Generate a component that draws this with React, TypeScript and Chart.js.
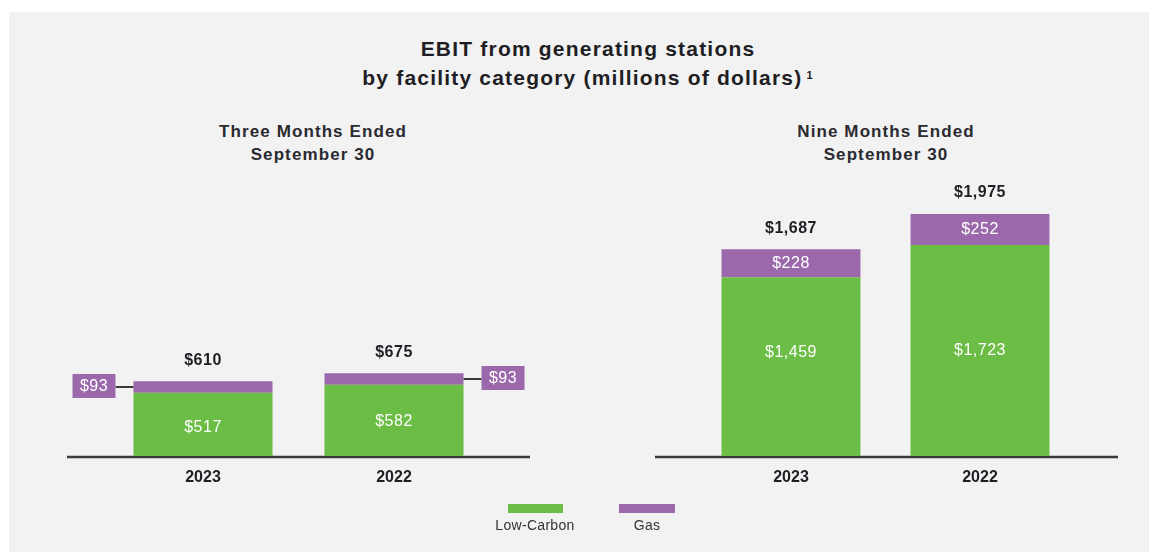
import React, { useEffect, useRef } from 'react';
import { Chart, registerables } from 'chart.js';

Chart.register(...registerables);

// ---- data ----
const threeMonthCategories = ['2023', '2022'];
const threeMonthLowCarbon = [517, 582];
const threeMonthGas = [93, 93];
const threeMonthTotals = [610, 675];

const nineMonthCategories = ['2023', '2022'];
const nineMonthLowCarbon = [1459, 1723];
const nineMonthGas = [228, 252];
const nineMonthTotals = [1687, 1975];

const seriesNames = ['Low-Carbon', 'Gas'];
const yMax = 2090;

const titleLines = ['EBIT from generating stations', 'by facility category (millions of dollars)'];
const panelTitles = [
  ['Three Months Ended', 'September 30'],
  ['Nine Months Ended', 'September 30'],
];

// ---- style ----
const GREEN = '#6cbd45';
const PURPLE = '#9b69ab';
const BG = '#f2f2f2';
const TEXT = '#1e1e24';
const FONT = '"Liberation Sans", Arial, Helvetica, sans-serif';
// vertical placement of the in-bar Low-Carbon label (fraction of segment from its top)
const threeMonthLabelFrac = [0.55, 0.52];
const nineMonthLabelFrac = [0.42, 0.5];

const fmt = (v: number) => '$' + v.toLocaleString('en-US');

type PanelProps = {
  categories: string[];
  low: number[];
  gas: number[];
  totals: number[];
  labelFrac: number[];
  callouts: boolean;
  left: number;
  width: number;
  padLeft: number;
  padRight: number;
  barPct: number;
  axisExtLeft: number;
  axisExtRight: number;
};

function Panel(p: PanelProps) {
  const ref = useRef<HTMLCanvasElement | null>(null);
  useEffect(() => {
    if (!ref.current) return;
    const labelPlugin = {
      id: 'labels',
      beforeDatasetsDraw(chart: any) {
        const { ctx, chartArea } = chart;
        const yb = chart.scales.y.getPixelForValue(0);
        ctx.save();
        ctx.strokeStyle = '#3a3a3a';
        ctx.lineWidth = 2.5;
        ctx.beginPath();
        ctx.moveTo(chartArea.left - p.axisExtLeft, yb + 1);
        ctx.lineTo(chartArea.right + p.axisExtRight, yb + 1);
        ctx.stroke();
        ctx.restore();
      },
      afterDatasetsDraw(chart: any) {
        const { ctx } = chart;
        const m0 = chart.getDatasetMeta(0).data;
        const m1 = chart.getDatasetMeta(1).data;
        ctx.save();
        ctx.textAlign = 'center';
        ctx.textBaseline = 'middle';
        (ctx as any).letterSpacing = '0.5px';
        for (let i = 0; i < m0.length; i++) {
          const g = m0[i];
          const pu = m1[i];
          // green label
          ctx.fillStyle = '#ffffff';
          ctx.font = `16px ${FONT}`;
          ctx.fillText(fmt(p.low[i]), g.x, g.y + (g.base - g.y) * p.labelFrac[i]);
          // gas label
          const midP = (pu.y + pu.base) / 2;
          if (p.callouts) {
            const bw = 43;
            const bh = 24;
            const gap = 18;
            const half = pu.width / 2;
            const onLeft = i === 0;
            const bx = onLeft ? pu.x - half - gap - bw : pu.x + half + gap;
            ctx.strokeStyle = '#3a3a3a';
            ctx.lineWidth = 2;
            ctx.beginPath();
            if (onLeft) {
              ctx.moveTo(bx + bw, midP);
              ctx.lineTo(pu.x - half, midP);
            } else {
              ctx.moveTo(pu.x + half, midP);
              ctx.lineTo(bx, midP);
            }
            ctx.stroke();
            ctx.fillStyle = PURPLE;
            ctx.fillRect(bx, midP - bh / 2 - 1, bw, bh);
            ctx.fillStyle = '#ffffff';
            ctx.font = `16px ${FONT}`;
            ctx.fillText(fmt(p.gas[i]), bx + bw / 2, midP);
          } else {
            ctx.fillStyle = '#ffffff';
            ctx.font = `16px ${FONT}`;
            ctx.fillText(fmt(p.gas[i]), pu.x, midP);
          }
          // total
          ctx.fillStyle = TEXT;
          ctx.font = `bold 16px ${FONT}`;
          ctx.fillText(fmt(p.totals[i]), pu.x, pu.y - 21);
        }
        ctx.restore();
      },
    };

    const chart = new Chart(ref.current, {
      type: 'bar',
      data: {
        labels: p.categories,
        datasets: [
          {
            label: seriesNames[0],
            data: p.low,
            backgroundColor: GREEN,
            borderWidth: 0,
            categoryPercentage: 1,
            barPercentage: p.barPct,
          },
          {
            label: seriesNames[1],
            data: p.gas,
            backgroundColor: PURPLE,
            borderWidth: 0,
            categoryPercentage: 1,
            barPercentage: p.barPct,
          },
        ],
      },
      options: {
        animation: false,
        responsive: false,
        maintainAspectRatio: false,
        layout: {
          padding: { left: p.padLeft, right: p.padRight, top: 200, bottom: 56 },
        },
        plugins: {
          legend: { display: false },
          tooltip: { enabled: false },
          title: { display: false },
        },
        scales: {
          x: {
            stacked: true,
            grid: { display: false, drawTicks: false },
            border: { display: false },
            ticks: {
              padding: 12,
              color: TEXT,
              font: { family: FONT, size: 16, weight: 'bold' },
            },
            afterFit: (s: any) => {
              s.height = 40;
            },
          },
          y: {
            stacked: true,
            display: false,
            min: 0,
            max: yMax,
          },
        },
      },
      plugins: [labelPlugin],
    } as any);
    return () => chart.destroy();
  }, []);
  return (
    <canvas
      ref={ref}
      width={p.width}
      height={552}
      style={{ position: 'absolute', left: p.left, top: 0, width: p.width, height: 552 }}
    />
  );
}

export default function App() {
  useEffect(() => {
    document.body.style.margin = '0';
  }, []);
  const txt: React.CSSProperties = {
    position: 'absolute',
    fontFamily: FONT,
    color: TEXT,
    textAlign: 'center',
    whiteSpace: 'nowrap',
  };
  return (
    <div
      style={{
        position: 'fixed',
        left: 0,
        top: 0,
        width: 1151,
        height: 552,
        background: '#ffffff',
        overflow: 'hidden',
      }}
    >
      <div style={{ position: 'absolute', left: 9, top: 12, width: 1140, height: 540, background: BG }} />
      <div
        style={{
          ...txt,
          left: 238,
          width: 700,
          top: 34,
          fontSize: 21,
          fontWeight: 'bold',
          lineHeight: '29px',
          letterSpacing: '1.2px',
        }}
      >
        {titleLines[0]}
        <br />
        {titleLines[1]}
        <sup style={{ fontSize: 11, marginLeft: 4, verticalAlign: 'top', position: 'relative', top: -2 }}>1</sup>
      </div>
      <div
        style={{
          ...txt,
          left: 163,
          width: 300,
          top: 120,
          fontSize: 17,
          fontWeight: 'bold',
          lineHeight: '23px',
          color: '#2a2a30',
          letterSpacing: '1.1px',
        }}
      >
        {panelTitles[0][0]}
        <br />
        {panelTitles[0][1]}
      </div>
      <div
        style={{
          ...txt,
          left: 736,
          width: 300,
          top: 120,
          fontSize: 17,
          fontWeight: 'bold',
          lineHeight: '23px',
          color: '#2a2a30',
          letterSpacing: '1.1px',
        }}
      >
        {panelTitles[1][0]}
        <br />
        {panelTitles[1][1]}
      </div>
      <Panel
        categories={threeMonthCategories}
        low={threeMonthLowCarbon}
        gas={threeMonthGas}
        totals={threeMonthTotals}
        labelFrac={threeMonthLabelFrac}
        callouts={true}
        left={0}
        width={585}
        padLeft={107.5}
        padRight={95.5}
        barPct={0.728}
        axisExtLeft={40.5}
        axisExtRight={40.5}
      />
      <Panel
        categories={nineMonthCategories}
        low={nineMonthLowCarbon}
        gas={nineMonthGas}
        totals={nineMonthTotals}
        labelFrac={nineMonthLabelFrac}
        callouts={false}
        left={585}
        width={566}
        padLeft={111.5}
        padRight={76.5}
        barPct={0.735}
        axisExtLeft={41.5}
        axisExtRight={43.5}
      />
      {/* legend */}
      <div style={{ position: 'absolute', left: 508, top: 504, width: 55, height: 9, background: GREEN }} />
      <div style={{ position: 'absolute', left: 619, top: 504, width: 56, height: 9, background: PURPLE }} />
      <div style={{ ...txt, left: 475, width: 120, top: 517, fontSize: 14, color: '#333', letterSpacing: '0.3px' }}>
        {seriesNames[0]}
      </div>
      <div style={{ ...txt, left: 587, width: 120, top: 517, fontSize: 14, color: '#333', letterSpacing: '0.3px' }}>
        {seriesNames[1]}
      </div>
    </div>
  );
}
